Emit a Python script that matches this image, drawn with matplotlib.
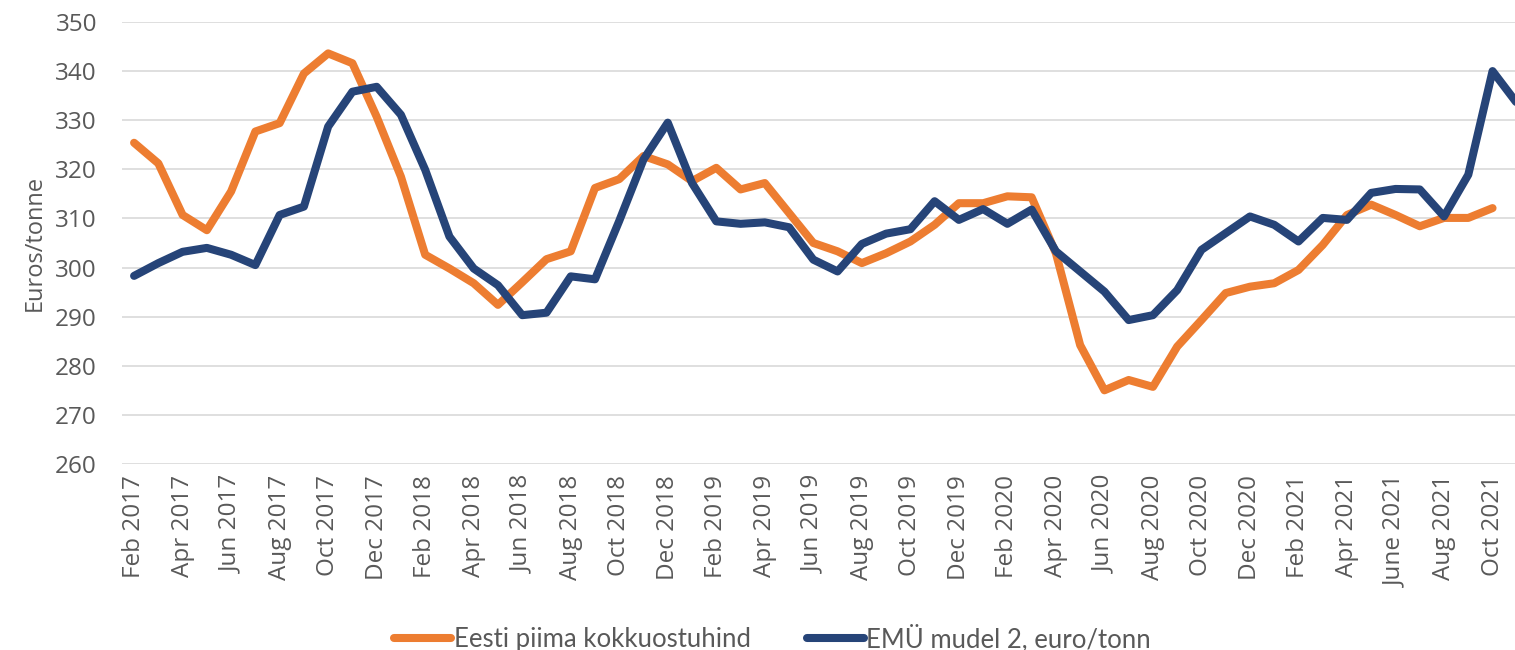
import numpy as np
import matplotlib
matplotlib.use('Agg')
from matplotlib import pyplot as plt

# monthly values, Feb 2017 onwards
eesti = [325.4, 321.2, 310.7, 307.6, 315.5, 327.7, 329.4, 339.5, 343.6, 341.6, 330.7,
         318.5, 302.6, 299.8, 296.8, 292.4, 297.0, 301.7, 303.3, 316.2, 318.0, 322.7, 321.0,
         317.6, 320.3, 315.9, 317.2, 311.1, 305.0, 303.3, 300.9, 302.9, 305.3, 308.7, 313.1,
         313.1, 314.5, 314.3, 302.9, 284.2, 275.0, 277.1, 275.7, 283.9, 289.3, 294.8, 296.1,
         296.8, 299.5, 304.6, 310.7, 312.8, 310.7, 308.4, 310.1, 310.1, 312.1]
emu = [298.3, 300.9, 303.2, 304.0, 302.6, 300.5, 310.7, 312.4, 328.7, 335.8, 336.8,
       331.1, 319.9, 306.3, 299.8, 296.4, 290.3, 290.8, 298.2, 297.6, 309.5, 322.0, 329.5,
       317.2, 309.4, 308.9, 309.2, 308.2, 301.6, 299.2, 304.8, 306.9, 307.8, 313.5, 309.7,
       311.9, 308.9, 311.8, 303.3, 299.2, 295.1, 289.3, 290.3, 295.4, 303.6, 307.0, 310.4,
       308.7, 305.3, 310.1, 309.7, 315.2, 316.0, 315.9, 310.4, 318.9, 340.0, 333.5]
tick_labels = ['Feb 2017', 'Apr 2017', 'Jun 2017', 'Aug 2017', 'Oct 2017', 'Dec 2017',
               'Feb 2018', 'Apr 2018', 'Jun 2018', 'Aug 2018', 'Oct 2018', 'Dec 2018',
               'Feb 2019', 'Apr 2019', 'Jun 2019', 'Aug 2019', 'Oct 2019', 'Dec 2019',
               'Feb 2020', 'Apr 2020', 'Jun 2020', 'Aug 2020', 'Oct 2020', 'Dec 2020',
               'Feb 2021', 'Apr 2021', 'June 2021', 'Aug 2021', 'Oct 2021']

grey = '#595959'
fig = plt.figure(figsize=(15.15, 6.5), dpi=100)
ax = fig.add_axes([0.0805, 0.2862, 0.9287, 0.68])

ax.plot(range(len(eesti)), eesti, color='#ED7D31', lw=5.8, solid_capstyle='round',
        solid_joinstyle='round', label='Eesti piima kokkuostuhind')
ax.plot(range(len(emu)), emu, color='#264478', lw=5.8, solid_capstyle='round',
        solid_joinstyle='round', label='EMÜ mudel 2, euro/tonn')

ax.set_ylim(260, 350)
ax.set_xlim(-0.5, 57.5)
ax.set_yticks(range(260, 351, 10))
ax.set_xticks(range(0, 2 * len(tick_labels), 2))
ax.set_xticklabels(tick_labels, rotation=90)
ax.grid(axis='y', color='#D9D9D9', lw=1.2)
ax.set_axisbelow(True)
for s in ax.spines.values():
    s.set_visible(False)
ax.tick_params(length=0, labelsize=17.5, labelcolor=grey)
ax.tick_params(axis='y', pad=18)
ax.tick_params(axis='x', pad=8)
for t in ax.get_xticklabels() + ax.get_yticklabels():
    t.set_family('Open Sans')
ax.set_ylabel('Euros/tonne', fontsize=17, color=grey, family='Open Sans', labelpad=6)

fig.legend(loc='center', bbox_to_anchor=(0.51, 0.018), ncol=2, frameon=False,
           prop={'family': 'Lato', 'size': 18.5}, handlelength=2.2, handletextpad=0.1,
           columnspacing=2.2, labelcolor=grey)

fig.savefig('out.png', dpi=100)
